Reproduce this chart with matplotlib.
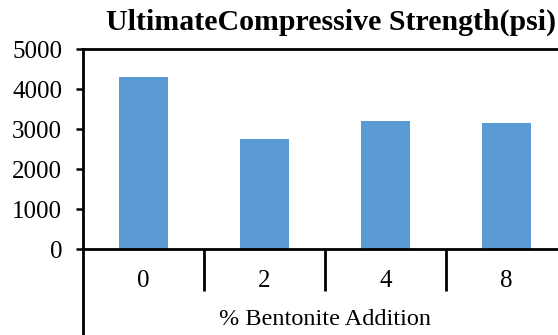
import matplotlib.pyplot as plt
from matplotlib.lines import Line2D

plt.rcParams['font.family'] = ['Liberation Serif', 'DejaVu Serif']

bentonite = ['0', '2', '4', '8']
strength = [4290, 2740, 3190, 3160]

fig = plt.figure(figsize=(5.58, 3.35), dpi=100)
ax = fig.add_axes([83 / 558, 1 - 249 / 335, 484 / 558, 200 / 335])

x = range(len(bentonite))
ax.bar(x, strength, width=0.4, color='#5B9BD5', zorder=2)

ax.set_xlim(-0.5, len(bentonite) - 0.5)
ax.set_ylim(0, 5000)
ax.set_yticks(range(0, 5001, 1000))

# category names under each bar, separators between categories
ax.set_xticks(list(x))
ax.set_xticklabels(bentonite, fontsize=18)
ax.set_xticks([i + 0.5 for i in range(len(bentonite) - 1)], minor=True)
ax.tick_params(axis='x', which='major', length=0, pad=15)
ax.tick_params(axis='x', which='minor', length=30, width=2, direction='out', color='black')
ax.tick_params(axis='y', length=5, width=1.8, pad=10, labelsize=18)

for side in ['top', 'bottom', 'left']:
    ax.spines[side].set_linewidth(2)
ax.spines['right'].set_visible(False)

# left border runs down through the category-label band
ax.add_line(Line2D([0, 0], [0, -0.45], transform=ax.transAxes,
                   color='black', lw=2, clip_on=False))

ax.set_xlabel('% Bentonite Addition', fontsize=17.5, labelpad=10)

fig.text(331 / 558, 1 - 22 / 335, 'UltimateCompressive Strength(psi)',
         ha='center', va='center', fontsize=21.5, fontweight='bold')

fig.savefig('out.png', dpi=100)
